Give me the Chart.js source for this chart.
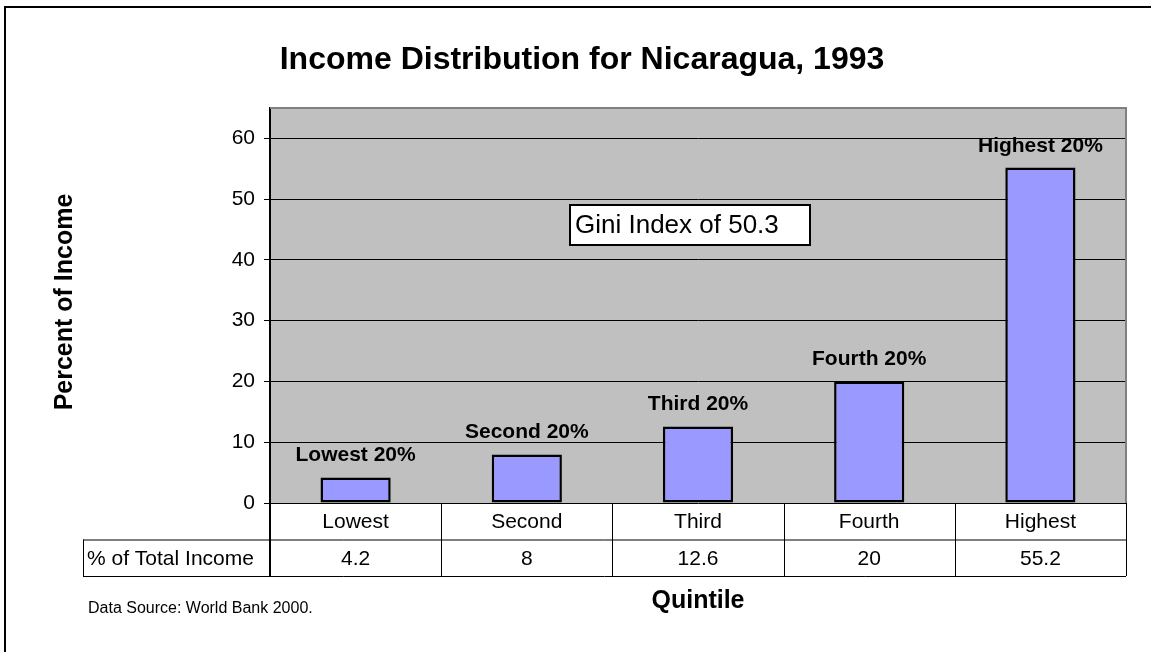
<!DOCTYPE html>
<html>
<head>
<meta charset="utf-8">
<script src="https://cdn.jsdelivr.net/npm/chart.js@4/dist/chart.umd.min.js"></script>
<style>
  html, body { margin: 0; padding: 0; background: #fff; }
  #incomeChart { display: block; }
</style>
</head>
<body>
<canvas id="incomeChart" width="1151" height="652"></canvas>
<script>
const chartTitle = "Income Distribution for Nicaragua, 1993";
const categories = ["Lowest", "Second", "Third", "Fourth", "Highest"];
const shareOfIncome = [4.2, 8, 12.6, 20, 55.2];
const barLabels = ["Lowest 20%", "Second 20%", "Third 20%", "Fourth 20%", "Highest 20%"];
const yTicks = [0, 10, 20, 30, 40, 50, 60];
const tableRowLabel = "% of Total Income";
const giniNote = "Gini Index of 50.3";
const yTitle = "Percent of Income";
const xTitle = "Quintile";
const sourceNote = "Data Source: World Bank 2000.";

const FONT = "'Liberation Sans', Arial, sans-serif";

// excel-like frame, table and annotations drawn round the chart area
const excelPlugin = {
  id: "excelLook",
  beforeDraw(chart) {
    const ctx = chart.ctx;
    const a = chart.chartArea;
    ctx.save();
    ctx.fillStyle = "#fff";
    ctx.fillRect(0, 0, chart.width, chart.height);
    ctx.fillStyle = "#c0c0c0";
    ctx.fillRect(a.left, a.top, a.right - a.left, a.bottom - a.top);
    ctx.restore();
  },
  afterDraw(chart) {
    const ctx = chart.ctx;
    const a = chart.chartArea;
    const xs = chart.scales.x;
    const colW = (a.right - a.left) / categories.length;
    const rowH = 36.5;
    const row1 = a.bottom;
    const row2 = row1 + rowH;
    const row3 = row2 + rowH;
    const tableLeft = 83;

    ctx.save();
    // plot border (top + right)
    ctx.strokeStyle = "#808080";
    ctx.lineWidth = 2;
    ctx.beginPath();
    ctx.moveTo(a.left, a.top);
    ctx.lineTo(a.right, a.top);
    ctx.lineTo(a.right, a.bottom);
    ctx.stroke();

    // data table
    ctx.strokeStyle = "#000";
    ctx.lineWidth = 1;
    ctx.beginPath();
    ctx.moveTo(tableLeft, row2 + 0.5);
    ctx.lineTo(a.right, row2 + 0.5);
    ctx.moveTo(tableLeft, row3 + 0.5);
    ctx.lineTo(a.right, row3 + 0.5);
    ctx.moveTo(tableLeft + 0.5, row2);
    ctx.lineTo(tableLeft + 0.5, row3);
    for (let i = 1; i <= categories.length; i++) {
      const x = Math.round(a.left + i * colW) + 0.5;
      ctx.moveTo(x, row1);
      ctx.lineTo(x, row3);
    }
    ctx.stroke();
    ctx.lineWidth = 2;
    ctx.beginPath();
    ctx.moveTo(a.left, row1);
    ctx.lineTo(a.left, row3 + 1);
    ctx.stroke();

    ctx.fillStyle = "#000";
    ctx.font = "21px " + FONT;
    ctx.textAlign = "center";
    ctx.textBaseline = "middle";
    categories.forEach((c, i) => {
      const x = xs.getPixelForValue(i);
      ctx.fillText(c, x, (row1 + row2) / 2 + 1);
      ctx.fillText(String(shareOfIncome[i]), x, (row2 + row3) / 2 + 1);
    });
    ctx.textAlign = "left";
    ctx.fillText(tableRowLabel, tableLeft + 4, (row2 + row3) / 2 + 1);

    // bar labels
    ctx.font = "bold 21px " + FONT;
    ctx.textAlign = "center";
    ctx.textBaseline = "alphabetic";
    chart.getDatasetMeta(0).data.forEach((bar, i) => {
      ctx.fillText(barLabels[i], bar.x, bar.y - 16);
    });

    // gini note box
    const bx = 570, by = 205, bw = 240, bh = 40;
    ctx.fillStyle = "#fff";
    ctx.fillRect(bx, by, bw, bh);
    ctx.strokeStyle = "#000";
    ctx.lineWidth = 2;
    ctx.strokeRect(bx, by, bw, bh);
    ctx.fillStyle = "#000";
    ctx.font = "26px " + FONT;
    ctx.textAlign = "left";
    ctx.textBaseline = "middle";
    ctx.fillText(giniNote, bx + 5, by + bh / 2 + 1);

    // titles
    ctx.font = "bold 32px " + FONT;
    ctx.textAlign = "center";
    ctx.textBaseline = "alphabetic";
    ctx.fillText(chartTitle, 582, 69);

    ctx.font = "bold 25px " + FONT;
    ctx.fillText(xTitle, (a.left + a.right) / 2, 608);

    ctx.save();
    ctx.translate(72, 302);
    ctx.rotate(-Math.PI / 2);
    ctx.fillText(yTitle, 0, 0);
    ctx.restore();

    ctx.font = "16px " + FONT;
    ctx.textAlign = "left";
    ctx.fillText(sourceNote, 88, 613);

    // outer frame
    ctx.strokeStyle = "#000";
    ctx.lineWidth = 2;
    ctx.beginPath();
    ctx.moveTo(5, chart.height);
    ctx.lineTo(5, 7);
    ctx.lineTo(chart.width, 7);
    ctx.stroke();
    ctx.restore();
  }
};

new Chart(document.getElementById("incomeChart").getContext("2d"), {
  type: "bar",
  data: {
    labels: categories,
    datasets: [
      {
        label: tableRowLabel,
        data: shareOfIncome,
        backgroundColor: "#9999ff",
        borderColor: "#000",
        borderWidth: 2.5,
        borderSkipped: false,
        barPercentage: 0.41,
        categoryPercentage: 1,
      },
    ],
  },
  options: {
    responsive: false,
    animation: false,
    events: [],
    layout: { padding: { left: 210, right: 25, top: 108, bottom: 149 } },
    plugins: {
      legend: { display: false },
      tooltip: { enabled: false },
    },
    scales: {
      x: { display: false },
      y: {
        min: 0,
        max: 65,
        afterFit: (s) => { s.width = 60; },
        afterBuildTicks: (s) => {
          s.ticks = yTicks.map((v) => ({ value: v }));
        },
        ticks: {
          stepSize: 10,
          padding: 9,
          color: "#000",
          font: { family: FONT, size: 21 },
        },
        grid: {
          color: "#000",
          lineWidth: 1,
          tickLength: 6,
          tickColor: "#000",
        },
        border: { display: true, color: "#000", width: 2 },
      },
    },
  },
  plugins: [excelPlugin],
});
</script>
</body>
</html>
